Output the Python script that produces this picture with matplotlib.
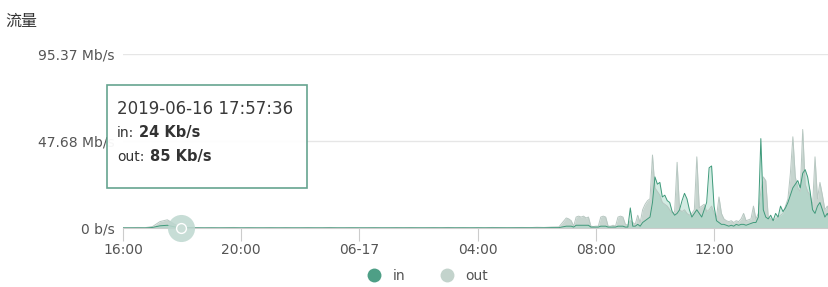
import numpy as np
import matplotlib.pyplot as plt
from matplotlib.lines import Line2D
from matplotlib.patches import Rectangle

# quiet part: 16:00 -> 06:45 every 15 min (Mb/s)
quiet_out = [0.2, 0.2, 0.3, 0.2, 0.8, 3.5, 4.5, 2.0, 0.1, 0.2, 0.2, 0.1,
             0.2, 0.1, 0.2, 0.3, 0.1, 0.2, 0.1, 0.1, 0.2, 0.1, 0.2, 0.1,
             0.1, 0.2, 0.1, 0.1, 0.3, 0.1, 0.1, 0.2, 0.1, 0.1, 0.2, 0.1,
             0.1, 0.2, 0.1, 0.2, 0.1, 0.1, 0.2, 0.1, 0.3, 0.1, 0.2, 0.1,
             0.2, 0.1, 0.3, 0.2, 0.1, 0.2, 0.3, 0.2, 0.4, 0.3, 0.5, 0.6]
quiet_in = [0.05, 0.05, 0.1, 0.05, 0.3, 1.2, 1.5, 0.6, 0.05, 0.05, 0.05, 0.05,
            0.05, 0.05, 0.05, 0.1, 0.05, 0.05, 0.05, 0.05, 0.05, 0.05, 0.05, 0.05,
            0.05, 0.05, 0.05, 0.05, 0.1, 0.05, 0.05, 0.05, 0.05, 0.05, 0.05, 0.05,
            0.05, 0.05, 0.05, 0.05, 0.05, 0.05, 0.05, 0.05, 0.1, 0.05, 0.05, 0.05,
            0.05, 0.05, 0.1, 0.05, 0.05, 0.05, 0.1, 0.05, 0.1, 0.1, 0.2, 0.2]

# busy part: 07:00 -> 15:55 every 5 min (Mb/s)
busy_out = [5.5, 5, 4, 1, 6, 6.5, 6, 6.5, 5.5, 6,
            1, 0.8, 1, 1, 6, 6.5, 6, 1, 1, 1.5,
            1, 6, 6.5, 6, 2, 1.5, 4, 3, 2, 7,
            3, 10, 13, 15, 16, 40, 22, 20, 18, 14,
            13, 12, 10, 8, 9, 36, 10, 9, 10, 8,
            7, 8, 10, 39, 11, 12, 13, 9, 10, 12,
            8, 6, 17, 8, 5, 4, 3.5, 4, 3, 4,
            3.5, 5, 8, 4, 4.5, 5, 12, 5, 8, 20,
            28, 26, 6, 5, 4, 5, 6, 7, 8, 12,
            16, 30, 50, 28, 22, 20, 54, 24, 20, 18,
            12, 39, 16, 25, 18, 10, 12, 8]
busy_in = [1, 1, 1, 0.5, 1.5, 1.5, 1.5, 1.5, 1.5, 1.5,
           0.5, 0.5, 0.5, 0.5, 1, 1, 1, 0.5, 0.5, 0.5,
           0.5, 1, 1, 1, 0.5, 0.5, 11, 1, 1, 2,
           1, 3, 4, 5, 6, 14, 28, 24, 25, 17,
           18, 15, 14, 9, 7, 8, 10, 15, 19, 16,
           10, 6, 8, 10, 8, 6, 10, 14, 33, 34,
           12, 4, 3, 2, 2, 1.5, 1, 1.5, 1, 2,
           1.5, 2, 2, 1.5, 2, 2.5, 3, 3, 6, 49,
           10, 6, 5, 7, 4, 8, 6, 12, 9, 11,
           14, 18, 22, 24, 26, 22, 30, 32, 28, 20,
           10, 8, 12, 14, 10, 6, 8, 5]

# hours since 2019-06-16 16:00
t = np.concatenate([np.arange(len(quiet_out)) * 0.25,
                    15 + np.arange(len(busy_out)) / 12])
out_v = np.array(quiet_out + busy_out)
in_v = np.array(quiet_in + busy_in)

tick_pos = [0, 4, 8, 12, 16, 20]
tick_labels = ['16:00', '20:00', '06-17', '04:00', '08:00', '12:00']
y_ticks = [0, 47.68, 95.37]
y_labels = ['0 b/s', '47.68 Mb/s', '95.37 Mb/s']

W, H = 829, 287
fig = plt.figure(figsize=(W / 100, H / 100), dpi=100)
fig.patch.set_facecolor('white')

ax = fig.add_axes([123 / W, 59 / H, 1 - 123 / W, (228 - 54) / H])
ax.set_facecolor('none')

c_out = '#c4d3cd'
c_in = '#3f9a7b'

ax.fill_between(t, out_v, color=c_out, lw=0, alpha=0.95)
ax.plot(t, out_v, color='#b7c7c1', lw=0.7)
ax.fill_between(t, in_v, color='#9fd7c2', lw=0, alpha=0.45)
ax.plot(t, in_v, color=c_in, lw=0.7)

ax.set_xlim(0, 23.89)
ax.set_ylim(0, 95.37)
ax.set_xticks(tick_pos)
ax.set_xticklabels(tick_labels)
ax.set_yticks(y_ticks)
ax.set_yticklabels(y_labels)

for y in y_ticks[1:]:
    ax.axhline(y, color='#e6e6e6', lw=1, zorder=0)

for s in ['top', 'right', 'left']:
    ax.spines[s].set_visible(False)
ax.spines['bottom'].set_color('#cccccc')
ax.tick_params(axis='x', direction='out', length=9, color='#cccccc',
               labelsize=10, labelcolor='#555555', pad=2)
ax.tick_params(axis='y', length=0, labelsize=10, labelcolor='#555555', pad=6)

# hover marker at 17:57:36
ax.scatter([1.96], [0], s=380, color='#bdd7cf', alpha=0.85, zorder=5,
           clip_on=False, lw=0)
ax.scatter([1.96], [0], s=50, color='#c9ddd6', edgecolor='white', lw=1,
           zorder=6, clip_on=False)

# title
fig.text(5 / W, 1 - 21 / H, '流量', fontsize=11.5, color='#333333',
         fontweight='medium', va='center', ha='left',
         family=['Noto Sans CJK SC', 'DejaVu Sans'])

# tooltip
fig.patches.append(Rectangle((107 / W, 1 - 188 / H), 200 / W, 103 / H,
                             transform=fig.transFigure, facecolor='white',
                             edgecolor='#5e9f8a', lw=1.2, alpha=0.95,
                             zorder=10))
fig.text(117 / W, 1 - 109 / H, '2019-06-16 17:57:36', fontsize=12,
         color='#3a3a3a', va='center', zorder=11)
fig.text(117 / W, 1 - 133 / H, 'in:', fontsize=10, color='#333333',
         va='center', zorder=11)
fig.text(139 / W, 1 - 133 / H, '24 Kb/s', fontsize=10.5, color='#333333',
         fontweight='bold', va='center', zorder=11)
fig.text(117 / W, 1 - 157 / H, 'out:', fontsize=10, color='#333333',
         va='center', zorder=11)
fig.text(150 / W, 1 - 157 / H, '85 Kb/s', fontsize=10.5, color='#333333',
         fontweight='bold', va='center', zorder=11)

# legend
handles = [Line2D([], [], marker='o', ls='', markersize=10,
                  markerfacecolor='#4e9f86', markeredgecolor='none'),
           Line2D([], [], marker='o', ls='', markersize=10,
                  markerfacecolor='#c3d3cc', markeredgecolor='none')]
fig.legend(handles, ['in', 'out'], loc='center', ncol=2, frameon=False,
           bbox_to_anchor=(424 / W, 1 - 276 / H), fontsize=10,
           labelcolor='#555555', handletextpad=0.3, columnspacing=2.0)

fig.savefig('out.png', dpi=100)
